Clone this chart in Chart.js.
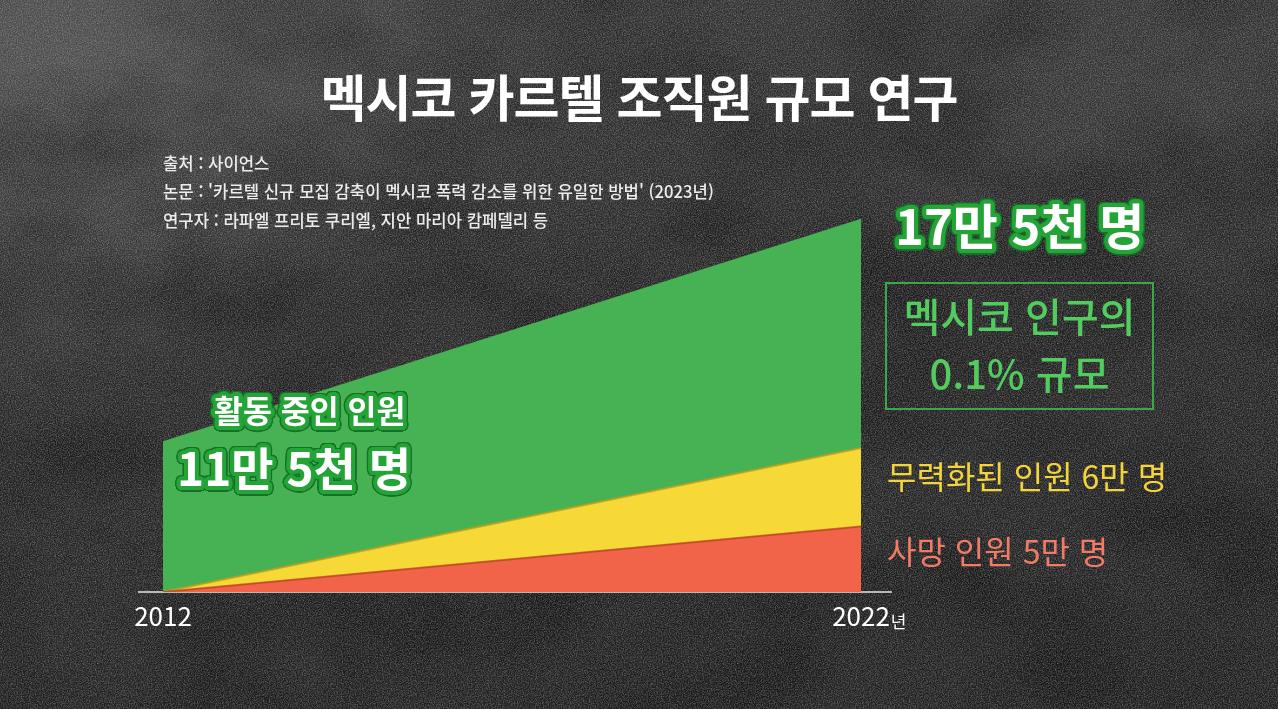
<!DOCTYPE html>
<html lang="ko">
<head>
<meta charset="utf-8">
<title>멕시코 카르텔 조직원 규모 연구</title>
<script src="https://cdn.jsdelivr.net/npm/chart.js@4"></script>
<style>
  html, body { margin: 0; padding: 0; }
  body {
    width: 1278px; height: 709px; overflow: hidden; position: relative;
    font-family: "Noto Sans CJK KR", "Noto Sans", sans-serif;
    background-color: #232323;
    background-image:
      radial-gradient(ellipse 700px 520px at 60px 60px, rgba(110,110,110,0.45), rgba(110,110,110,0) 70%),
      radial-gradient(ellipse 500px 300px at 1150px 120px, rgba(90,90,90,0.25), rgba(90,90,90,0) 70%),
      linear-gradient(170deg, #363636 0%, #262626 45%, #1f1f1f 100%);
  }
  #noise {
    position: absolute; inset: 0; opacity: 0.6;
    background-image: url("data:image/svg+xml;utf8,<svg xmlns='http://www.w3.org/2000/svg' width='320' height='320'><filter id='n'><feTurbulence type='fractalNoise' baseFrequency='0.85' numOctaves='3' seed='4'/><feColorMatrix values='0 0 0 0 0.55  0 0 0 0 0.55  0 0 0 0 0.55  1.3 0 0 0 -0.45'/></filter><rect width='100%' height='100%' filter='url(%23n)'/></svg>");
  }
  #blotch {
    position: absolute; inset: 0; opacity: 0.55;
    background-image: url("data:image/svg+xml;utf8,<svg xmlns='http://www.w3.org/2000/svg' width='1278' height='709'><filter id='b'><feTurbulence type='fractalNoise' baseFrequency='0.006 0.009' numOctaves='4' seed='9'/><feColorMatrix values='0 0 0 0 0  0 0 0 0 0  0 0 0 0 0  1.4 0 0 0 -0.55'/></filter><rect width='100%' height='100%' filter='url(%23b)'/></svg>");
  }
  #wrap { position: absolute; left: 0; top: 0; width: 1278px; height: 709px; }
  .t { position: absolute; white-space: nowrap; line-height: 1; }
  #title { left: 0; width: 1278px; text-align: center; top: 70px; font-size: 50px; font-weight: 700; color: #fff; letter-spacing: -1px; }
  .src { left: 163px; font-size: 16.7px; font-weight: 500; color: #ececec; }
  .big { font-weight: 700; color: #fff; }
  #box { position: absolute; left: 885px; top: 282px; width: 265px; height: 124px; border: 2px solid #39a845; }
  .boxline { width: 269px; left: 885px; text-align: center; font-size: 40px; color: #52cc5e; font-weight: 500; }
</style>
</head>
<body>
<div id="blotch"></div>
<div id="noise"></div>
<div id="wrap"><canvas id="chart"></canvas></div>

<div class="t" id="title">멕시코 카르텔 조직원 규모 연구</div>
<div class="t src" style="top:155px">출처 : 사이언스</div>
<div class="t src" style="top:183px">논문 : '카르텔 신규 모집 감축이 멕시코 폭력 감소를 위한 유일한 방법' (2023년)</div>
<div class="t src" style="top:212px">연구자 : 라파엘 프리토 쿠리엘, 지안 마리아 캄페델리 등</div>

<div class="t big outline" style="left:895px; top:199px; font-size:49px">17만 5천 명</div>
<div id="box"></div>
<div class="t boxline" style="top:295px">멕시코 인구의</div>
<div class="t boxline" style="top:352px">0.1% 규모</div>
<div class="t" style="left:887px; top:459px; font-size:32px; color:#f3d43a">무력화된 인원 6만 명</div>
<div class="t" style="left:887px; top:534px; font-size:32px; color:#f27b68">사망 인원 5만 명</div>

<div class="t big outline" style="left:214px; top:394px; font-size:31.5px">활동 중인 인원</div>
<div class="t big outline" style="left:177px; top:443px; font-size:46px">11만 5천 명</div>

<script>
// 단위: 만 명
const years = [2012, 2022];
const tickLabels = ['2012', '2022'];
const killed = [0, 5];        // 사망 인원
const neutralized = [0, 6];   // 무력화된 인원
const active = [11.5, 17.5];  // 활동 중인 인원

const tickFamily = "'Noto Sans CJK KR', sans-serif";
const tickSize = 26;

function outline(el, r, color, r2, color2) {
  const shadows = [];
  for (let i = 0; i < 24; i++) {
    const a = i / 24 * Math.PI * 2;
    shadows.push(`${(Math.cos(a) * r2).toFixed(1)}px ${(Math.sin(a) * r2).toFixed(1)}px 0 ${color2}`);
  }
  for (let i = 0; i < 24; i++) {
    const a = i / 24 * Math.PI * 2;
    shadows.unshift(`${(Math.cos(a) * r).toFixed(1)}px ${(Math.sin(a) * r).toFixed(1)}px 0 ${color}`);
  }
  el.style.textShadow = shadows.join(',');
}
document.querySelectorAll('.outline').forEach(el => outline(el, 4, '#25a437', 5.5, '#17702a'));

const pts = arr => arr.map((v, i) => ({ x: years[i], y: v }));

const unitSuffix = {
  id: 'unitSuffix',
  afterDraw(chart) {
    const x = chart.scales.x;
    const ctx = chart.ctx;
    const last = years[years.length - 1];
    ctx.save();
    ctx.font = tickSize + 'px ' + tickFamily;
    const w = ctx.measureText(tickLabels[tickLabels.length - 1]).width;
    ctx.font = "17px 'Noto Sans CJK KR'";
    ctx.fillStyle = '#ffffff';
    ctx.textBaseline = 'alphabetic';
    ctx.fillText('년', x.getPixelForValue(last) + w / 2 + 1, x.top + 36);
    ctx.restore();
  }
};

new Chart(document.getElementById('chart'), {
  type: 'line',
  data: {
    datasets: [
      { label: '사망 인원', data: pts(killed), fill: 'origin', backgroundColor: '#f26449',
        borderColor: 'rgba(190,70,40,0.8)', borderWidth: 2 },
      { label: '무력화된 인원', data: pts(neutralized), fill: '-1', backgroundColor: '#f6d936',
        borderColor: 'rgba(190,160,30,0.8)', borderWidth: 2 },
      { label: '활동 중인 인원', data: pts(active), fill: '-1', backgroundColor: '#46b254',
        borderColor: '#46b254', borderWidth: 0 }
    ]
  },
  options: {
    responsive: true,
    maintainAspectRatio: false,
    animation: false,
    elements: { point: { radius: 0 }, line: { tension: 0 } },
    layout: { padding: { left: 139, right: 387, top: 199, bottom: 77 } },
    plugins: { legend: { display: false }, tooltip: { enabled: false } },
    scales: {
      x: {
        type: 'linear',
        min: 2011.656,
        max: 2022.43,
        grid: { display: false, drawTicks: false },
        border: { display: true, color: '#b8b8b8', width: 2 },
        afterBuildTicks: s => { s.ticks = years.map(v => ({ value: v })); },
        afterFit: s => { s.height = 40; },
        ticks: {
          padding: 9,
          maxRotation: 0,
          autoSkip: false,
          color: '#ffffff',
          font: { family: tickFamily, size: tickSize },
          callback: v => tickLabels[years.indexOf(v)]
        }
      },
      y: {
        display: false,
        stacked: true,
        min: 0,
        max: 30
      }
    }
  },
  plugins: [unitSuffix]
});
</script>
</body>
</html>
